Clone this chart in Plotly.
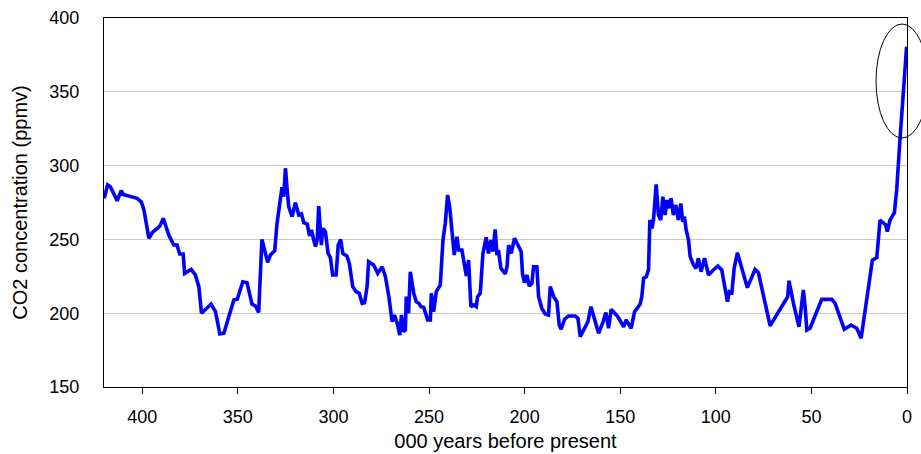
import plotly.graph_objects as go

# Age of the ice (thousand years before present) and CO2 concentration (ppmv)
years_bp = [
    419.9, 418.1, 416.7, 413.1, 411.0, 410.0, 402.7, 400.5, 399.1, 396.5,
    394.8, 390.8, 389.0, 386.1, 383.5, 381.8, 380.4, 378.6, 377.8, 374.4,
    372.2, 370.4, 369.0, 364.0, 361.7, 359.4, 357.3, 352.1, 350.3, 347.4,
    345.2, 342.6, 340.8, 339.1, 337.4, 334.4, 333.0, 330.7, 329.5, 328.1,
    326.9, 326.0, 325.1, 324.2, 323.4, 321.6, 319.9, 318.1, 316.7, 315.5,
    313.7, 312.5, 311.5, 310.3, 309.4, 308.5, 307.7, 306.3, 305.6, 304.2,
    302.8, 301.6, 300.4, 298.6, 297.5, 296.2, 295.1, 292.9, 291.7, 289.9,
    288.2, 286.5, 285.0, 283.7, 282.4, 281.6, 279.0, 276.8, 275.8, 274.5,
    272.8, 271.0, 269.3, 268.1, 266.7, 265.3, 264.4, 263.5, 262.4, 261.9,
    260.7, 259.8, 258.0, 256.7, 255.4, 254.2, 252.8, 250.7, 249.3, 248.8,
    247.6, 246.2, 244.1, 242.7, 241.5, 240.3, 239.2, 238.0, 236.8, 235.4,
    234.5, 232.8, 231.6, 230.5, 229.3, 228.1, 226.7, 225.3, 224.6, 223.2,
    221.8, 220.1, 218.9, 217.6, 216.6, 215.4, 214.5, 213.7, 212.4, 210.1,
    209.2, 208.4, 207.0, 205.3, 203.5, 201.8, 201.1, 200.1, 198.8, 197.6,
    196.2, 195.3, 193.6, 192.7, 191.0, 189.2, 187.5, 186.6, 184.8, 183.1,
    181.9, 180.9, 179.1, 177.1, 173.5, 172.1, 170.9, 169.2, 166.9, 165.3,
    163.4, 161.3, 159.2, 157.5, 156.1, 154.7, 151.2, 148.2, 146.9, 144.3,
    142.5, 140.8, 139.6, 138.7, 137.8, 136.4, 135.2, 134.5, 133.4, 132.6,
    131.2, 130.0, 128.8, 127.7, 126.5, 125.6, 124.8, 123.4, 122.2, 120.9,
    119.6, 118.3, 117.3, 116.4, 115.5, 114.3, 113.4, 111.7, 110.4, 109.1,
    107.7, 105.9, 103.8, 101.3, 98.9, 96.9, 95.1, 93.9, 92.9, 91.6,
    90.4, 88.7, 86.4, 83.5, 79.5, 77.7, 71.6, 62.4, 61.7, 59.4,
    56.5, 54.2, 53.3, 52.4, 50.7, 44.6, 39.4, 37.6, 32.8, 29.3,
    26.3, 24.0, 18.1, 15.8, 14.1, 11.1, 10.3, 8.9, 6.6, 5.4,
    3.7, 0.2,
]
co2_ppmv = [
    277.8, 286.9, 285.7, 276.2, 283.0, 280.5, 277.8, 275.5, 270.0, 250.7,
    254.5, 259.0, 264.2, 253.0, 246.2, 246.2, 240.1, 240.1, 227.0, 229.7,
    225.9, 218.0, 200.0, 206.2, 201.0, 185.9, 186.4, 208.9, 209.4, 221.3,
    220.7, 206.2, 204.9, 200.6, 250.0, 234.5, 239.4, 242.3, 260.8, 274.4,
    285.3, 278.9, 298.2, 283.5, 272.2, 265.4, 274.9, 266.5, 267.2, 261.3,
    260.4, 252.3, 256.4, 249.6, 245.1, 249.6, 272.6, 246.2, 257.5, 255.2,
    240.5, 237.8, 225.9, 225.9, 246.2, 250.0, 240.5, 238.7, 233.8, 218.0,
    214.6, 213.5, 206.7, 207.1, 218.0, 234.9, 232.7, 227.0, 229.3, 231.5,
    224.7, 211.2, 194.2, 198.8, 193.6, 185.2, 198.8, 187.5, 188.6, 211.2,
    199.9, 228.1, 213.5, 207.8, 206.7, 204.4, 204.0, 195.4, 195.4, 213.5,
    201.0, 214.6, 219.1, 249.6, 260.8, 280.1, 272.2, 251.8, 239.4, 251.8,
    242.8, 242.8, 232.7, 225.2, 236.0, 204.4, 205.6, 204.4, 211.2, 213.5,
    240.5, 251.4, 240.5, 249.6, 241.7, 256.8, 239.4, 242.8, 230.4, 226.6,
    231.5, 246.2, 240.5, 250.7, 246.2, 241.7, 226.6, 220.7, 225.9, 218.4,
    220.2, 231.5, 231.5, 211.2, 203.3, 199.5, 198.8, 218.0, 211.2, 207.8,
    192.0, 189.1, 195.9, 198.1, 198.1, 196.5, 184.1, 188.6, 194.2, 204.4,
    195.4, 186.4, 193.2, 200.4, 189.8, 202.6, 197.6, 190.8, 195.4, 189.8,
    201.0, 204.4, 206.0, 211.2, 223.6, 224.7, 229.3, 263.1, 257.5, 263.1,
    287.3, 266.5, 263.1, 278.9, 266.5, 276.7, 271.1, 277.8, 266.5, 273.3,
    263.1, 274.4, 262.0, 265.4, 256.4, 249.6, 238.3, 232.7, 230.4, 237.2,
    228.1, 237.2, 225.9, 229.3, 232.0, 229.3, 218.0, 207.8, 214.6, 213.9,
    230.4, 241.0, 230.4, 217.3, 229.7, 227.4, 191.5, 211.2, 222.0, 206.7,
    190.8, 215.7, 204.4, 188.6, 189.8, 209.4, 209.4, 206.7, 189.1, 192.0,
    189.8, 183.0, 236.0, 237.6, 263.1, 259.8, 255.2, 263.1, 268.1, 283.5,
    317.3, 380.6,
]

x_ticks = [0, 50, 100, 150, 200, 250, 300, 350, 400]
y_ticks = [150, 200, 250, 300, 350, 400]

FONT = "Liberation Sans, Arial, sans-serif"

fig = go.Figure()
fig.add_trace(go.Scatter(
    x=years_bp,
    y=co2_ppmv,
    mode="lines",
    line=dict(color="#0000FF", width=3.6),
    hoverinfo="x+y",
    showlegend=False,
))

# Oval highlighting the recent rise
fig.add_shape(
    type="circle",
    xref="paper", yref="paper",
    x0=0.9614, x1=1.0262, y0=0.6748, y1=0.9837,
    line=dict(color="#000000", width=1),
    fillcolor="rgba(0,0,0,0)",
    layer="above",
)

fig.update_layout(
    template="none",
    width=921,
    height=454,
    margin=dict(l=104, r=14, t=18, b=67, pad=0),
    paper_bgcolor="#FFFFFF",
    plot_bgcolor="#FFFFFF",
    font=dict(family=FONT, color="#000000", size=18),
    xaxis=dict(
        automargin=False,
        range=[420, 0],
        tickvals=x_ticks,
        ticktext=[str(v) for v in x_ticks],
        ticks="outside",
        ticklen=6,
        tickwidth=1,
        tickcolor="#000000",
        ticklabelstandoff=7,
        showline=True,
        linecolor="#000000",
        linewidth=1,
        mirror=True,
        showgrid=False,
        zeroline=False,
        tickfont=dict(family=FONT, size=18),
        title=dict(text="000 years before present",
                   font=dict(family=FONT, size=20), standoff=8),
    ),
    yaxis=dict(
        automargin=False,
        range=[150, 400],
        tickvals=y_ticks,
        ticktext=[str(v) for v in y_ticks],
        ticks="",
        ticklabelstandoff=20,
        showline=True,
        linecolor="#000000",
        linewidth=1,
        mirror=True,
        showgrid=True,
        gridcolor="#C8C8C8",
        gridwidth=1,
        zeroline=False,
        tickfont=dict(family=FONT, size=18),
        title=dict(text="CO2 concentration (ppmv)",
                   font=dict(family=FONT, size=20), standoff=16),
    ),
)

fig.write_html("out.html")
